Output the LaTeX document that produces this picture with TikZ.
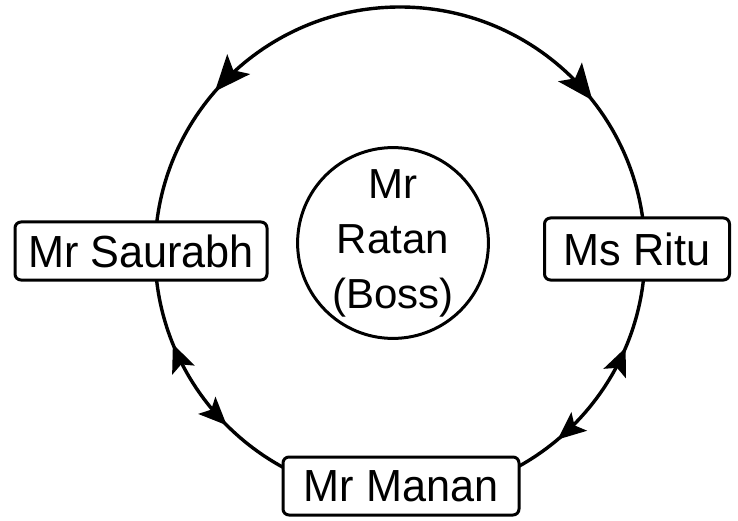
\documentclass[tikz,border=0pt]{standalone}
\usepackage{fontspec}
\setmainfont{Liberation Sans}
\newfontfamily\boxfont{Liberation Sans}[FakeStretch=0.96]
\usetikzlibrary{arrows.meta,decorations.markings,calc}
\begin{document}
\begin{tikzpicture}[x=1pt,y=1pt,
  conn/.style={line width=3.4pt},
  person/.style={draw,line width=3pt,rounded corners=6pt,fill=white,inner sep=0pt,
    font=\boxfont\fontsize{45}{50}\selectfont},
  boss/.style={draw,circle,line width=3pt,fill=white,inner sep=0pt,minimum size=168pt,
    align=center,font=\fontsize{42}{55}\selectfont},
  big/.tip={Stealth[length=36pt,width=30pt,inset=8pt]},
  small/.tip={Stealth[length=28pt,width=24pt,inset=6pt]},
  mk/.style n args={2}{postaction={decorate},decoration={markings,
    mark=at position #1 with {\arrow{small}},
    mark=at position #2 with {\arrowreversed{small}}}},
  mkone/.style={postaction={decorate},decoration={markings,
    mark=at position #1 with {\arrow{big}}}}
]
\useasboundingbox (0,0) rectangle (738,520);
\coordinate (C) at (400,268);
\coordinate (top) at ($(C)+(90:245pt)$);
\coordinate (L) at ($(C)+(180:245pt)$);
\coordinate (R) at ($(C)+(0:245pt)$);
% connectors
\draw[conn,mkone=0.545] (top) arc[start angle=90,end angle=180,radius=245pt];
\draw[conn,mkone=0.575] (top) arc[start angle=90,end angle=0,radius=245pt];
\draw[conn,mk={0.5}{0.245}] (L) arc[start angle=180,end angle=270,radius=245pt];
\draw[conn,mk={0.555}{0.255}] (R) arc[start angle=0,end angle=-90,radius=245pt];
% nodes
\node[person,minimum width=252pt,minimum height=58pt] (saurabh) at (141,269) {Mr Saurabh};
\node[person,minimum width=185pt,minimum height=62pt] (ritu) at (637,271) {Ms Ritu};
\node[person,minimum width=236pt,minimum height=58pt] (manan) at (401,34) {Mr Manan};
\node[boss] (ratan) at (393,277) {Mr\\Ratan\\(Boss)};
\end{tikzpicture}
\end{document}
